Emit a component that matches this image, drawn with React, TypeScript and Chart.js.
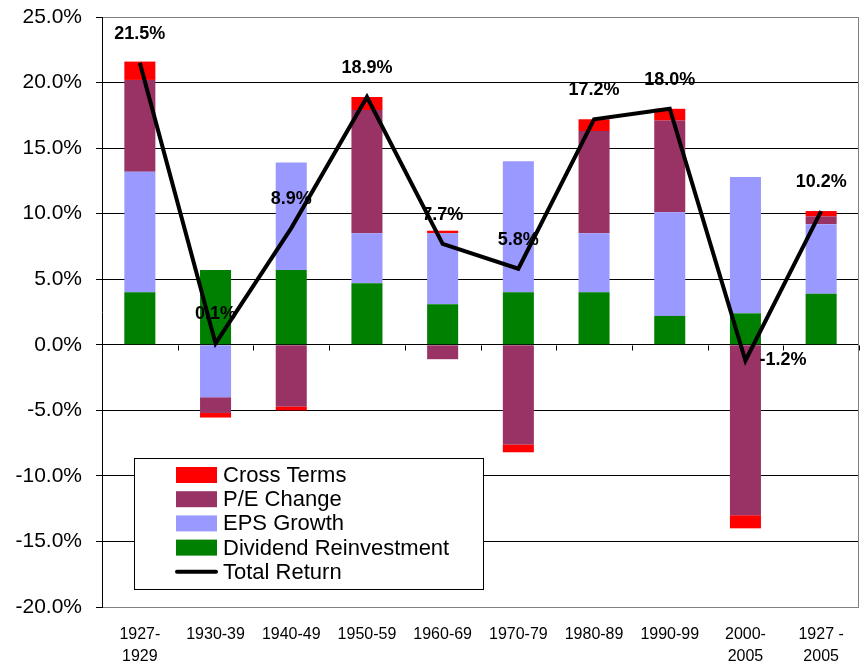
import React, { useEffect, useRef } from 'react';
import { Chart, registerables } from 'chart.js';

Chart.register(...registerables);

const categories: (string | string[])[] = [
  ['1927-', '1929'], '1930-39', '1940-49', '1950-59', '1960-69',
  '1970-79', '1980-89', '1990-99', ['2000-', '2005'], ['1927 -', '2005'],
];
const dividendReinvestment = [4.0, 5.7, 5.7, 4.7, 3.1, 4.0, 4.0, 2.2, 2.4, 3.9];
const epsGrowth = [9.2, -4.0, 8.2, 3.8, 5.4, 10.0, 4.5, 7.9, 10.4, 5.3];
const peChange = [7.0, -1.2, -4.7, 9.4, -1.1, -7.6, 7.8, 7.0, -13.0, 0.6];
const crossTerms = [1.4, -0.35, -0.3, 1.0, 0.2, -0.6, 0.9, 0.9, -1.0, 0.4];
const totalReturn = [21.5, 0.1, 8.9, 18.9, 7.7, 5.8, 17.2, 18.0, -1.2, 10.2];
const totalLabels = ['21.5%', '0.1%', '8.9%', '18.9%', '7.7%', '5.8%', '17.2%', '18.0%', '-1.2%', '10.2%'];
const yMin = -20;
const yMax = 25;
const yStep = 5;

const FONT = '"Liberation Sans", Arial, sans-serif';
const COLORS = {
  cross: '#FF0000',
  pe: '#993366',
  eps: '#9999FF',
  div: '#008000',
  line: '#000000',
};

const legendItems = [
  { label: 'Cross Terms', color: COLORS.cross, kind: 'box' },
  { label: 'P/E Change', color: COLORS.pe, kind: 'box' },
  { label: 'EPS Growth', color: COLORS.eps, kind: 'box' },
  { label: 'Dividend Reinvestment', color: COLORS.div, kind: 'box' },
  { label: 'Total Return', color: COLORS.line, kind: 'line' },
];

const decorPlugin = {
  id: 'decor',
  beforeDatasetsDraw(chart: any) {
    const { ctx, chartArea } = chart;
    ctx.save();
    ctx.strokeStyle = '#808080';
    ctx.lineWidth = 1;
    ctx.beginPath();
    ctx.moveTo(Math.round(chartArea.right) - 0.5, chartArea.top);
    ctx.lineTo(Math.round(chartArea.right) - 0.5, chartArea.bottom);
    ctx.stroke();
    // tick marks on the zero line between categories
    const x = chart.scales.x;
    const y0 = Math.round(chart.scales.y.getPixelForValue(0)) + 0.5;
    ctx.strokeStyle = '#000';
    ctx.beginPath();
    for (let i = 0; i <= categories.length; i++) {
      const px = Math.round(x.getPixelForValue(i - 0.5)) + 0.5;
      ctx.moveTo(px, y0);
      ctx.lineTo(px, y0 + 5);
    }
    ctx.stroke();
    ctx.restore();
  },
  afterDraw(chart: any) {
    const { ctx } = chart;
    const meta = chart.getDatasetMeta(0);
    ctx.save();
    // data labels of the total return line
    ctx.fillStyle = '#000';
    ctx.font = `bold 18px ${FONT}`;
    meta.data.forEach((pt: any, i: number) => {
      const v = totalReturn[i];
      if (v < 0) {
        ctx.textAlign = 'left';
        ctx.textBaseline = 'middle';
        ctx.fillText(totalLabels[i], pt.x + 14, pt.y);
      } else {
        ctx.textAlign = 'center';
        ctx.textBaseline = 'middle';
        ctx.fillText(totalLabels[i], pt.x, pt.y - 29);
      }
    });
    // legend box
    const lx = 134.5, ly = 458.5, lw = 349, lh = 131;
    ctx.fillStyle = '#fff';
    ctx.fillRect(lx, ly, lw, lh);
    ctx.strokeStyle = '#000';
    ctx.lineWidth = 1;
    ctx.strokeRect(lx, ly, lw, lh);
    ctx.font = `22px ${FONT}`;
    ctx.textAlign = 'left';
    ctx.textBaseline = 'middle';
    legendItems.forEach((it, i) => {
      const cy = 475 + i * 24.2;
      if (it.kind === 'box') {
        ctx.fillStyle = it.color;
        ctx.fillRect(176, cy - 8, 41, 16);
      } else {
        ctx.strokeStyle = it.color;
        ctx.lineWidth = 4;
        ctx.lineCap = 'round';
        ctx.beginPath();
        ctx.moveTo(177, cy);
        ctx.lineTo(216, cy);
        ctx.stroke();
      }
      ctx.fillStyle = '#000';
      ctx.fillText(it.label, 223, cy + 1);
    });
    ctx.restore();
  },
};

export default function App() {
  const ref = useRef<HTMLCanvasElement>(null);
  useEffect(() => {
    if (!ref.current) return;
    const chart = new Chart(ref.current, {
      type: 'bar',
      data: {
        labels: categories as any,
        datasets: [
          {
            type: 'line',
            label: 'Total Return',
            data: totalReturn,
            borderColor: COLORS.line,
            borderWidth: 4,
            pointRadius: 0,
            borderJoinStyle: 'miter',
            tension: 0,
            order: 0,
          } as any,
          { label: 'Dividend Reinvestment', data: dividendReinvestment, backgroundColor: COLORS.div, order: 1 },
          { label: 'EPS Growth', data: epsGrowth, backgroundColor: COLORS.eps, order: 1 },
          { label: 'P/E Change', data: peChange, backgroundColor: COLORS.pe, order: 1 },
          { label: 'Cross Terms', data: crossTerms, backgroundColor: COLORS.cross, order: 1 },
        ],
      },
      options: {
        animation: false,
        responsive: false,
        layout: { padding: { top: 17, right: 2, left: 0, bottom: 0 } },
        datasets: { bar: { barPercentage: 0.41, categoryPercentage: 1 } } as any,
        plugins: { legend: { display: false }, tooltip: { enabled: false } },
        scales: {
          x: {
            stacked: true,
            offset: true,
            grid: { display: false, drawTicks: false },
            border: { display: false },
            ticks: {
              color: '#000',
              font: { family: FONT, size: 16, lineHeight: 1.375 },
              maxRotation: 0,
              autoSkip: false,
              padding: 17,
            },
            afterFit: (s: any) => { s.height = 56; },
          },
          y: {
            stacked: true,
            min: yMin,
            max: yMax,
            grid: {
              color: (c: any) => (c.tick && (c.tick.value === yMax || c.tick.value === yMin) ? '#808080' : '#000'),
              tickColor: '#000',
              tickLength: 6,
              lineWidth: 1,
            },
            border: { color: '#000', width: 1 },
            ticks: {
              stepSize: yStep,
              color: '#000',
              font: { family: FONT, size: 21, lineHeight: 0.5 },
              padding: 14,
              callback: (v: any) => `${Number(v).toFixed(1)}%`,
            },
            afterFit: (s: any) => { s.width = 102; s.paddingTop = 0; s.paddingBottom = 0; },
          },
        },
      },
      plugins: [decorPlugin],
    });
    return () => chart.destroy();
  }, []);
  return (
    <div style={{ position: 'absolute', left: 0, top: 0, width: 861, height: 663, background: '#fff' }}>
      <canvas ref={ref} width={861} height={663} style={{ display: 'block' }} />
    </div>
  );
}
